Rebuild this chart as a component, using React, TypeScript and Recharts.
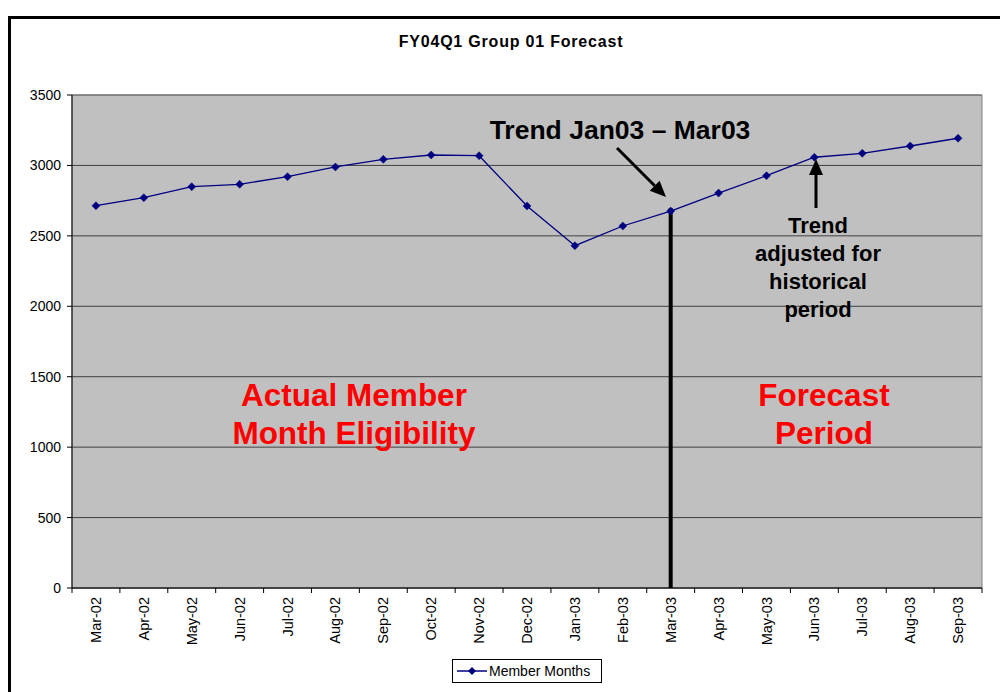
import React from 'react';
import {
  LineChart,
  Line,
  XAxis,
  YAxis,
  CartesianGrid,
  Legend,
  ReferenceLine,
  ReferenceArea,
} from 'recharts';

const months = [
  'Mar-02', 'Apr-02', 'May-02', 'Jun-02', 'Jul-02', 'Aug-02', 'Sep-02', 'Oct-02', 'Nov-02',
  'Dec-02', 'Jan-03', 'Feb-03', 'Mar-03', 'Apr-03', 'May-03', 'Jun-03', 'Jul-03', 'Aug-03', 'Sep-03',
];
const memberMonths = [
  2714, 2771, 2849, 2866, 2920, 2989, 3043, 3074, 3069,
  2712, 2430, 2570, 2676, 2804, 2927, 3058, 3086, 3138, 3193,
];
const yTicks = [0, 500, 1000, 1500, 2000, 2500, 3000, 3500];
const seriesName = 'Member Months';
const title = 'FY04Q1 Group 01 Forecast';
const forecastStart = 'Mar-03';

const data = months.map((m, i) => ({ month: m, value: memberMonths[i] }));

const FONT = '"Liberation Sans", Arial, sans-serif';
const NAVY = '#000080';
const W = 1000;
const H = 692;
const PLOT_LEFT = 72;
const PLOT_RIGHT = 982;
const PLOT_TOP = 95;
const PLOT_BOTTOM = 588;
const BAND = (PLOT_RIGHT - PLOT_LEFT) / months.length;

const Diamond = (props: any) => {
  const { cx, cy } = props;
  if (cx == null || cy == null) return null;
  const r = 4;
  return (
    <polygon
      points={`${cx},${cy - r} ${cx + r},${cy} ${cx},${cy + r} ${cx - r},${cy}`}
      fill={NAVY}
      stroke={NAVY}
      strokeWidth={0.5}
    />
  );
};

const XTick = (props: any) => {
  const { x, y, payload, index } = props;
  const axisY = y - 9;
  const last = index === months.length - 1;
  return (
    <g>
      <line x1={x - BAND / 2} x2={x - BAND / 2} y1={axisY} y2={axisY + 5} stroke="#000" />
      {last && <line x1={x + BAND / 2} x2={x + BAND / 2} y1={axisY} y2={axisY + 5} stroke="#000" />}
      <text
        x={x}
        y={y}
        transform={`rotate(-90, ${x}, ${y})`}
        textAnchor="end"
        dy="0.35em"
        fontSize={14.5}
        fontFamily={FONT}
        fill="#000"
      >
        {payload.value}
      </text>
    </g>
  );
};

const LegendContent = () => (
  <div
    style={{
      border: '1px solid #000',
      background: '#fff',
      height: 24,
      display: 'flex',
      alignItems: 'center',
      boxSizing: 'border-box',
      padding: '0 6px 0 4px',
      fontFamily: FONT,
      fontSize: 14,
      color: '#000',
      whiteSpace: 'nowrap',
    }}
  >
    <svg width={30} height={12} style={{ marginRight: 2 }}>
      <line x1={0} x2={30} y1={6} y2={6} stroke={NAVY} strokeWidth={1.5} />
      <polygon points="15,2 19,6 15,10 11,6" fill={NAVY} />
    </svg>
    <span>{seriesName}</span>
  </div>
);

const Arrow = ({ x1, y1, x2, y2 }: { x1: number; y1: number; x2: number; y2: number }) => {
  const dx = x2 - x1;
  const dy = y2 - y1;
  const len = Math.sqrt(dx * dx + dy * dy);
  const ux = dx / len;
  const uy = dy / len;
  const hl = 16;
  const hw = 7;
  const bx = x2 - ux * hl;
  const by = y2 - uy * hl;
  const px = -uy;
  const py = ux;
  return (
    <g>
      <line x1={x1} y1={y1} x2={bx} y2={by} stroke="#000" strokeWidth={3} />
      <polygon
        points={`${x2},${y2} ${bx + px * hw},${by + py * hw} ${bx - px * hw},${by - py * hw}`}
        fill="#000"
      />
    </g>
  );
};

export default function App() {
  return (
    <div
      style={{
        position: 'absolute',
        left: 0,
        top: 0,
        width: W,
        height: H,
        overflow: 'hidden',
        background: '#fff',
      }}
    >
      <div style={{ position: 'absolute', left: 0, top: 0 }}>
        <LineChart
          width={W}
          height={H}
          data={data}
          margin={{ top: PLOT_TOP, right: W - PLOT_RIGHT, bottom: 0, left: 0 }}
        >
          <CartesianGrid
            horizontal
            vertical={false}
            stroke="#404040"
            fill="#C0C0C0"
            fillOpacity={1}
          />
          <ReferenceArea y1={0} y2={3500} fill="none" stroke="#808080" strokeWidth={1} />
          <XAxis
            dataKey="month"
            scale="band"
            interval={0}
            height={H - PLOT_BOTTOM}
            tickSize={5}
            tickMargin={4}
            tickLine={false}
            axisLine={{ stroke: '#000' }}
            tick={<XTick />}
          />
          <YAxis
            width={PLOT_LEFT}
            domain={[0, 3500]}
            ticks={yTicks}
            interval={0}
            tickSize={5}
            tickMargin={6}
            axisLine={{ stroke: '#000' }}
            tickLine={{ stroke: '#000' }}
            tick={{ fontSize: 14, fontFamily: FONT, fill: '#000' }}
          />
          <ReferenceLine
            segment={[
              { x: forecastStart, y: 0 },
              { x: forecastStart, y: memberMonths[months.indexOf(forecastStart)] + 20 },
            ]}
            stroke="#000"
            strokeWidth={4}
          />
          <Line
            type="linear"
            dataKey="value"
            name={seriesName}
            stroke={NAVY}
            strokeWidth={1.3}
            dot={<Diamond />}
            activeDot={false}
            isAnimationActive={false}
          />
          <Legend
            layout="horizontal"
            verticalAlign="middle"
            align="center"
            content={<LegendContent />}
            wrapperStyle={{ left: 452, top: 659, width: 150, height: 25 }}
          />
        </LineChart>
      </div>
      <svg
        width={W}
        height={H}
        style={{ position: 'absolute', left: 0, top: 0, pointerEvents: 'none' }}
      >
        <text
          x={511}
          y={47}
          textAnchor="middle"
          fontFamily={FONT}
          fontWeight="bold"
          fontSize={16}
          letterSpacing={0.8}
          fill="#000"
        >
          {title}
        </text>
        <text x={620} y={139} textAnchor="middle" fontFamily={FONT} fontWeight="bold" fontSize={26.5} fill="#000">
          Trend Jan03 – Mar03
        </text>
        <Arrow x1={617} y1={148} x2={666} y2={197} />
        <Arrow x1={816} y1={208} x2={816} y2={159} />
        <g fontFamily={FONT} fontWeight="bold" fontSize={22} fill="#000" textAnchor="middle">
          <text x={818} y={233}>Trend</text>
          <text x={818} y={261}>adjusted for</text>
          <text x={818} y={289}>historical</text>
          <text x={818} y={317}>period</text>
        </g>
        <g fontFamily={FONT} fontWeight="bold" fontSize={31.5} fill="#FF0000" textAnchor="middle">
          <text x={354} y={406}>Actual Member</text>
          <text x={354} y={444}>Month Eligibility</text>
          <text x={824} y={406}>Forecast</text>
          <text x={824} y={444}>Period</text>
        </g>
      </svg>
      <div
        style={{
          position: 'absolute',
          left: 8,
          top: 16,
          width: 1200,
          height: 900,
          borderLeft: '3px solid #000',
          borderTop: '3px solid #000',
          pointerEvents: 'none',
        }}
      />
    </div>
  );
}
